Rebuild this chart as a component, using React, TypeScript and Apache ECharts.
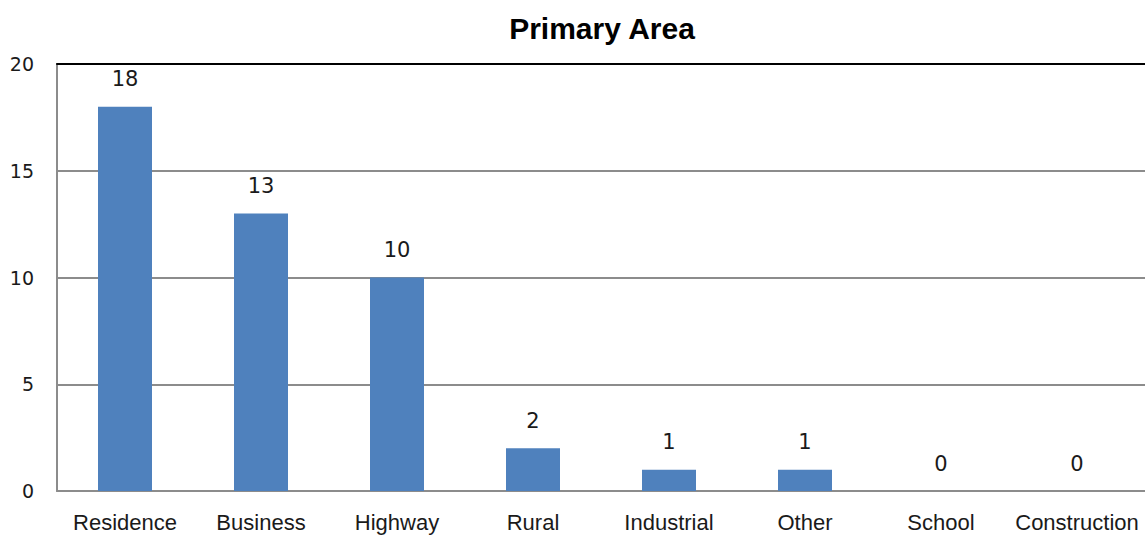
import React, { useEffect, useRef } from "react";
import * as echarts from "echarts";

// Counts per primary area
const categories = ["Residence", "Business", "Highway", "Rural", "Industrial", "Other", "School", "Construction"];
const counts = [18, 13, 10, 2, 1, 1, 0, 0];
const yMin = 0;
const yMax = 20;
const yStep = 5;

export default function App() {
  const ref = useRef<HTMLDivElement>(null);

  useEffect(() => {
    if (!ref.current) return;
    const chart = echarts.init(ref.current, undefined, { renderer: "svg" });
    chart.setOption({
      animation: false,
      backgroundColor: "#ffffff",
      title: {
        text: "Primary Area",
        left: 597,
        textAlign: "center",
        top: 8,
        textStyle: {
          fontFamily: "'Liberation Sans', Arial, sans-serif",
          fontWeight: "bold",
          fontSize: 30,
          color: "#000000",
        },
      },
      grid: { left: 57, right: -3, top: 64, bottom: 47 },
      xAxis: [
        {
          type: "category",
          data: categories,
          axisTick: { show: false },
          axisLine: { lineStyle: { color: "#8c8c8c", width: 2 } },
          axisLabel: {
            interval: 0,
            margin: 20,
            color: "#1a1a1a",
            fontFamily: "'Liberation Sans', Arial, sans-serif",
            fontSize: 22,
          },
        },
        {
          type: "category",
          position: "top",
          data: categories,
          axisTick: { show: false },
          axisLabel: { show: false },
          axisLine: { show: true, lineStyle: { color: "#000000", width: 2 } },
        },
      ],
      yAxis: {
        type: "value",
        min: yMin,
        max: yMax,
        interval: yStep,
        axisLine: { show: true, lineStyle: { color: "#8c8c8c", width: 2 } },
        axisTick: { show: false },
        splitLine: { lineStyle: { color: "#8c8c8c", width: 2 } },
        axisLabel: {
          margin: 23,
          color: "#1a1a1a",
          fontFamily: "'DejaVu Sans', sans-serif",
          fontSize: 19,
        },
      },
      series: [
        {
          type: "bar",
          data: counts,
          barWidth: 54,
          itemStyle: { color: "#4f81bd" },
          label: {
            show: true,
            position: "top",
            distance: 17,
            color: "#1a1a1a",
            fontFamily: "'DejaVu Sans', sans-serif",
            fontSize: 21,
          },
        },
      ],
    });
    return () => chart.dispose();
  }, []);

  return (
    <div
      ref={ref}
      style={{ position: "fixed", left: 0, top: 0, width: 1145, height: 538 }}
    />
  );
}
